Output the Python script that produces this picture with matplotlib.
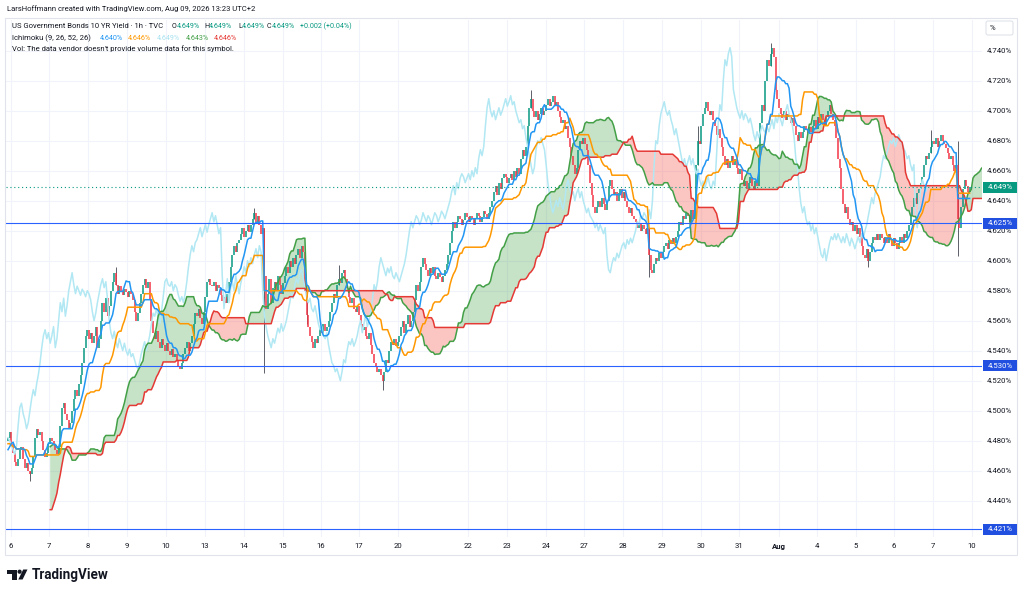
import numpy as np
import matplotlib
matplotlib.use("Agg")
import matplotlib.pyplot as plt
from matplotlib.patches import Rectangle, FancyBboxPatch, Polygon, Circle

FONT = ["Roboto", "DejaVu Sans"]
plt.rcParams["font.family"] = FONT

# ---------------- data (yield in thousandths of a percent) ----------------
pre_history = [4380, 4378, 4385, 4392, 4400,
               4414, 4425, 4438, 4450,
               4458, 4466, 4470, 4468,
               4472, 4475, 4478, 4474, 4470, 4476, 4480, 4484, 4482, 4478,
               4474, 4478, 4482, 4486, 4490, 4488, 4484, 4480, 4476, 4478,
               4482, 4485, 4480, 4476, 4472, 4470, 4474, 4478, 4476, 4472,
               4468, 4466, 4470, 4474, 4478, 4476, 4474, 4478, 4480]

week_jul06 = [4482, 4486, 4478,
              4472, 4466, 4463, 4468,
              4474, 4476,
              4468, 4462, 4465, 4460, 4458, 4462,
              4470, 4482,
              4488, 4484, 4486, 4480,
              4474, 4469, 4472,
              4478, 4482, 4480, 4477,
              4474, 4471, 4476,
              4490, 4502, 4505,
              4498, 4494, 4488, 4492,
              4500, 4508, 4514, 4510, 4518, 4524,
              4532, 4542, 4550, 4554, 4548,
              4552, 4545, 4550, 4556, 4542, 4548,
              4560, 4572, 4566, 4575, 4563, 4570,
              4580, 4586, 4592, 4584, 4578, 4583,
              4580, 4577, 4581, 4579, 4576, 4580, 4578, 4574,
              4566, 4560, 4565, 4572,
              4578, 4584, 4588, 4582, 4586,
              4574, 4560, 4552, 4548, 4553,
              4546, 4542, 4548, 4544, 4540, 4545,
              4540, 4537, 4541, 4536, 4538, 4534,
              4530, 4528, 4532,
              4538, 4542, 4546, 4540, 4545, 4550,
              4558, 4565, 4563, 4568,
              4562, 4558, 4566]

week_jul13 = [4576, 4586, 4588, 4584,
              4583, 4586, 4580, 4584, 4582,
              4577, 4573, 4576, 4572, 4578, 4586,
              4596, 4604, 4610, 4606, 4612, 4614,
              4618, 4622, 4616, 4620, 4624, 4619,
              4624, 4628, 4632, 4626,
              4630, 4624, 4618, 4622,
              4590, 4568,
              4578, 4588, 4572, 4582,
              4586, 4580, 4590, 4584, 4578, 4585,
              4590, 4596, 4592, 4600, 4596, 4602,
              4598, 4604, 4608, 4602, 4610, 4606,
              4580, 4564,
              4556, 4550, 4546, 4542, 4548, 4545, 4550,
              4555, 4552, 4558, 4553, 4556, 4560,
              4566, 4572, 4578, 4575, 4584, 4588,
              4585, 4592, 4594, 4588,
              4582, 4576, 4572, 4575, 4568, 4566, 4570, 4564,
              4558, 4554, 4556, 4550, 4548, 4552,
              4544, 4538, 4532, 4530, 4526, 4528, 4524, 4520,
              4526, 4534, 4532, 4540,
              4546, 4544, 4548, 4543, 4546]

week_jul20 = [4550, 4556, 4560, 4552, 4558, 4564, 4556, 4560, 4566,
              4574, 4584, 4580, 4586,
              4596, 4602, 4598,
              4594, 4590, 4595, 4592, 4596, 4590, 4588, 4592, 4589, 4586,
              4590, 4594, 4598, 4604, 4612,
              4620, 4626, 4622,
              4626, 4630, 4628, 4624, 4627, 4632, 4629, 4626, 4630, 4628,
              4624, 4628, 4632, 4630, 4626, 4629, 4633, 4631, 4628, 4632, 4636,
              4640, 4646, 4650, 4644, 4652, 4648, 4655, 4658,
              4656, 4652, 4655, 4658,
              4654, 4660, 4656, 4662, 4658,
              4668, 4674, 4670, 4676,
              4690, 4702, 4708, 4700,
              4696, 4700, 4694, 4698, 4702, 4697,
              4700, 4704, 4708, 4703, 4706, 4710, 4704, 4706,
              4700, 4696, 4692, 4694, 4688, 4690,
              4682, 4676, 4670,
              4664, 4658, 4662,
              4674, 4680, 4678, 4682]

week_jul27 = [4678, 4674,
              4664, 4652, 4644, 4636, 4632, 4636,
              4640, 4636, 4642, 4638, 4634, 4640,
              4650, 4654,
              4648, 4644, 4646, 4640, 4645, 4648, 4642, 4646,
              4640, 4636, 4632, 4635, 4630, 4628,
              4626, 4622, 4625, 4620, 4624, 4621, 4618, 4622,
              4604, 4594, 4592,
              4598, 4602, 4600, 4605, 4602, 4606,
              4610, 4612, 4608, 4614, 4611, 4615, 4612, 4616,
              4620, 4626, 4624, 4630, 4628, 4632, 4630, 4626,
              4634, 4628, 4640,
              4664, 4680, 4678,
              4690, 4698, 4702, 4706, 4700, 4697,
              4700, 4694, 4690, 4684, 4688, 4682,
              4676, 4670, 4664, 4668, 4662, 4666,
              4670, 4664, 4668, 4662, 4658, 4661,
              4654, 4650, 4653, 4648, 4652, 4656, 4650, 4648, 4653, 4650,
              4670, 4692, 4704, 4700,
              4720, 4734, 4730, 4738, 4742, 4736,
              4714, 4708, 4702]

week_aug03 = [4698, 4695, 4700, 4694, 4698, 4696, 4692, 4695,
              4690, 4684, 4680, 4686, 4682,
              4686, 4690, 4687, 4685, 4689, 4686,
              4690, 4694, 4688, 4696, 4692, 4698, 4694, 4690, 4696, 4700,
              4704, 4698, 4694,
              4690, 4682, 4668, 4662,
              4648, 4638, 4632, 4636,
              4628, 4624, 4626, 4620, 4624, 4618, 4622, 4616,
              4610, 4604, 4602, 4608, 4600, 4606,
              4612, 4616, 4614, 4618, 4614, 4618, 4615, 4612,
              4616, 4612, 4618, 4614, 4610, 4615, 4612, 4608, 4612,
              4616, 4612, 4618, 4615, 4620, 4624,
              4630, 4636, 4642, 4638, 4645, 4648, 4652, 4656,
              4664, 4670, 4668, 4672,
              4676, 4680, 4678, 4682, 4676, 4680, 4684, 4680, 4678, 4675,
              4672, 4668, 4670, 4664, 4660, 4664,
              4628, 4622,
              4636, 4648, 4654, 4650, 4646, 4649]

# notable wick extremes (visible bar index -> value)
wick_high = {64: 4596, 146: 4635, 196: 4597, 310: 4714, 409: 4690,
             452: 4745, 547: 4687, 563: 4680}
wick_low = {13: 4453, 152: 4525, 177: 4558, 222: 4514, 380: 4589,
            510: 4596, 563: 4603}

tick_bars = [1.8, 24.3, 47.4, 70.5, 93.6, 116.7, 139.9, 163.0, 185.5, 208.0,
             231.2, 272.7, 295.8, 318.9, 341.4, 364.5, 387.7, 410.8, 433.3,
             457.0, 479.5, 502.6, 525.1, 548.2, 571.3]
tick_labels = ["6", "7", "8", "9", "10", "13", "14", "15", "16", "17", "20",
               "22", "23", "24", "27", "28", "29", "30", "31", "Aug", "4", "5",
               "6", "7", "10"]
y_ticks = [4.44, 4.46, 4.48, 4.50, 4.52, 4.54, 4.56, 4.58, 4.60, 4.62, 4.64,
           4.66, 4.68, 4.70, 4.72, 4.74]
hlines = [4.625, 4.530, 4.421]
last_price = 4.649
ichimoku_params = (9, 26, 52, 26)
ichimoku_values = ["4.640%", "4.646%", "4.649%", "4.643%", "4.646%"]

# ---------------- computations ----------------
npre = len(pre_history)
vis = week_jul06 + week_jul13 + week_jul20 + week_jul27 + week_aug03
closes = np.array(pre_history + vis, dtype=float) / 1000.0
opens = np.r_[closes[0], closes[:-1]]
highs = np.maximum(opens, closes)
lows = np.minimum(opens, closes)
for b, v in wick_high.items():
    highs[npre + b] = max(highs[npre + b], v / 1000.0)
for b, v in wick_low.items():
    lows[npre + b] = min(lows[npre + b], v / 1000.0)


def donchian(h, l, n):
    out = np.full(len(h), np.nan)
    for i in range(n - 1, len(h)):
        out[i] = (h[i - n + 1:i + 1].max() + l[i - n + 1:i + 1].min()) / 2
    return out


tn, kj, sb, disp = ichimoku_params
tenkan = donchian(highs, lows, tn)
kijun = donchian(highs, lows, kj)
spanA = (tenkan + kijun) / 2
spanB = donchian(highs, lows, sb)
off = disp - 1

nvis = len(vis)
xv = np.arange(nvis)
o = opens[npre:]
c = closes[npre:]
h = highs[npre:]
l = lows[npre:]

# ---------------- figure ----------------
W, H = 1024, 594
fig = plt.figure(figsize=(W / 100, H / 100), dpi=100)
fig.patch.set_facecolor("white")

PL, PR, PT, PB = 6, 982, 20, 537
ax = fig.add_axes([PL / W, 1 - PB / H, (PR - PL) / W, (PB - PT) / H])
Y0, YPX0, PXU = 4.740, 50.7, 1500.0


def val_at(ypx):
    return Y0 - (ypx - YPX0) / PXU


def bar_at(xpx):
    return (xpx - 8) / 1.687


ax.set_ylim(val_at(PB), val_at(PT))
ax.set_xlim(bar_at(PL), bar_at(PR))
for s in ax.spines.values():
    s.set_visible(False)
ax.set_facecolor("white")

ax.set_yticks(y_ticks)
ax.set_yticklabels([f"{v:.3f}%" for v in y_ticks])
ax.yaxis.tick_right()
ax.tick_params(axis="y", length=0, pad=3.6, labelsize=5.6, labelcolor="#131722")
ax.set_xticks(tick_bars)
ax.set_xticklabels(tick_labels)
ax.tick_params(axis="x", length=0, pad=4.0, labelsize=5.6, labelcolor="#131722")
for t in ax.get_xticklabels():
    if t.get_text() == "Aug":
        t.set_fontweight("bold")
ax.grid(True, color="#f0f3fa", lw=0.8, zorder=0)
ax.set_axisbelow(True)

# cloud
xl = xv + off
A = spanA[npre:]
B = spanB[npre:]
ax.fill_between(xl, A, B, where=A >= B, interpolate=True, color="#43a047",
                alpha=0.3, lw=0, zorder=2)
ax.fill_between(xl, A, B, where=A < B, interpolate=True, color="#f44336",
                alpha=0.3, lw=0, zorder=2)

# candles
blo = np.minimum(o, c)
bhi = np.maximum(blo + 0.0005, np.maximum(o, c))
up = c >= o
wk = (h > np.maximum(o, c) + 1e-9) | (l < blo - 1e-9)
ax.vlines(xv[wk], l[wk], h[wk], color="#434651", lw=0.6, zorder=3)
ax.vlines(xv[up], blo[up], bhi[up], color="#089981", lw=1.1, zorder=3,
          capstyle="butt")
ax.vlines(xv[~up], blo[~up], bhi[~up], color="#f23645", lw=1.1, zorder=3,
          capstyle="butt")

# ichimoku lines
ax.plot(xv[:nvis - off], c[off:], color="#b2e8f3", lw=1.1, zorder=4)
ax.plot(xl, A, color="#43a047", lw=1.1, zorder=4)
ax.plot(xl, B, color="#e53935", lw=1.1, zorder=4)
ax.plot(xv, kijun[npre:], color="#ff9800", lw=1.1, zorder=5)
ax.plot(xv, tenkan[npre:], color="#2196f3", lw=1.1, zorder=5)

# horizontal lines
for v in hlines:
    ax.axhline(v, color="#2962ff", lw=0.8, zorder=6)
ax.axhline(last_price, color="#089981", lw=0.8, ls=(0, (1, 2.5)), zorder=6)

# ---------------- overlay in pixel coords ----------------
ov = fig.add_axes([0, 0, 1, 1], zorder=10)
ov.set_xlim(0, W)
ov.set_ylim(H, 0)
ov.axis("off")
ov.patch.set_alpha(0)

fig.canvas.draw()
ren = fig.canvas.get_renderer()


def ypix(v):
    return H - ax.transData.transform((0, v))[1]


# frame
ov.add_patch(Rectangle((5, 18), 1012, 537, fill=False, ec="#e0e3eb", lw=0.8))

# price labels
for v, col in [(last_price, "#089981"), (4.625, "#2150e0"), (4.530, "#2150e0"),
               (4.421, "#2150e0")]:
    yp = ypix(v)
    ov.add_patch(Rectangle((983, yp - 5.5), 34, 11, fc=col, ec="none"))
    ov.text(1000, yp, f"{v:.3f}%", color="white", fontsize=5.6, ha="center",
            va="center")

# % box
ov.add_patch(FancyBboxPatch((986, 21), 27, 14, boxstyle="round,pad=0,rounding_size=2",
                            fc="white", ec="#e0e3eb", lw=0.8))
ov.text(990, 28, "%", fontsize=5.6, color="#131722", va="center", ha="left")


def fit_size(text, target, weight="normal"):
    t = ov.text(0, 0, text, fontsize=10, fontweight=weight)
    w = t.get_window_extent(ren).width
    t.remove()
    return 10 * target / w


HS = fit_size("LarsHoffmann created with TradingView.com, Aug 09, 2026 13:23 UTC+2", 248)
NS = min(HS, fit_size("O4.649%", 28))


def seq(x, y, parts, size):
    for text, col in parts:
        t = ov.text(x, y, text, color=col, fontsize=size, ha="left", va="center")
        x += t.get_window_extent(ren).width
    return x


DK, GR = "#131722", "#089981"
ov.text(7, 9, "LarsHoffmann created with TradingView.com, Aug 09, 2026 13:23 UTC+2",
        fontsize=HS, color=DK, ha="left", va="center")
seq(12, 26, [("US Government Bonds 10 YR Yield · 1h · TVC", DK)], HS)
seq(172, 26, [("O", DK), ("4.649%", GR)], NS)
seq(204, 26, [("H", DK), ("4.649%", GR)], NS)
seq(238, 26, [("L", DK), ("4.649%", GR)], NS)
seq(267, 26, [("C", DK), ("4.649%", GR)], NS)
seq(300, 26, [("+0.002 (+0.04%)", GR)], NS)
seq(12, 38, [("Ichimoku (9, 26, 52, 26)", DK)], HS)
for xx, txt, col in zip([100, 128, 157, 186, 214], ichimoku_values,
                        ["#2196f3", "#ff9800", "#a8e2f0", "#43a047", "#e53935"]):
    ov.text(xx, 38, txt, color=col, fontsize=NS, ha="left", va="center")
ov.text(12, 49, "Vol: The data vendor doesn't provide volume data for this symbol.",
        fontsize=HS, color=DK, ha="left", va="center")

# TradingView logo
ov.add_patch(Polygon([(7, 569.5), (16.5, 569.5), (16.5, 579.5), (12.2, 579.5),
                      (12.2, 573.8), (7, 573.8)], closed=True, fc=DK, ec="none"))
ov.add_patch(Circle((19.6, 571.7), 2.1, fc=DK, ec="none"))
ov.add_patch(Polygon([(23.2, 569.5), (27.5, 569.5), (22.6, 579.5), (18.3, 579.5)],
                     closed=True, fc=DK, ec="none"))
LS = fit_size("TradingView", 77, "bold")
ov.text(32, 575, "TradingView", fontsize=LS, fontweight="bold", color=DK,
        ha="left", va="center")

fig.savefig("out.png", dpi=100, facecolor="white")
